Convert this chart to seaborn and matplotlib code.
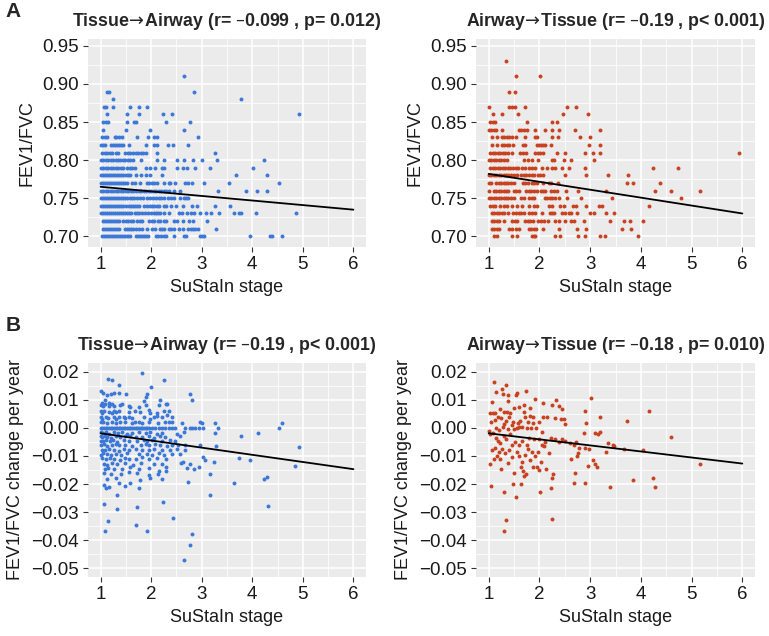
import pandas as pd
import matplotlib
matplotlib.use("Agg")
import matplotlib.pyplot as plt
import seaborn as sns
from matplotlib.ticker import MultipleLocator, FuncFormatter

BLUE = "#3b78d8"
RED = "#c8421f"

# ---- Panel A: FEV1/FVC (values are on a 0.01 grid) ----
fev_levels = [0.70, 0.71, 0.72, 0.73, 0.74, 0.75, 0.76, 0.77, 0.78, 0.79, 0.80,
              0.81, 0.82, 0.83, 0.84, 0.85, 0.86, 0.87, 0.88, 0.89, 0.90, 0.91, 0.92, 0.93]

# Tissue->Airway, SuStaIn stage of every subject at each FEV1/FVC level
ta_fev_x = [
    [1.02, 1.06, 1.10, 1.14, 1.18, 1.22, 1.26, 1.30, 1.34, 1.38, 1.42, 1.46, 1.50, 1.54, 1.58,
     1.70, 1.74, 1.78, 1.82, 1.86, 1.90, 1.94, 2.10, 2.14, 2.20, 2.25, 2.30, 2.45, 2.64, 2.68,
     2.97, 3.01, 3.05, 3.95, 4.36, 4.40, 4.59],
    [1.04, 1.08, 1.12, 1.16, 1.20, 1.24, 1.28, 1.32, 1.37, 1.48, 1.52, 1.56, 1.60, 1.65, 1.70,
     1.75, 1.82, 1.92, 2.02, 2.08, 2.18, 2.22, 2.26, 2.35, 2.40, 2.45, 2.55, 2.62, 2.72, 2.78,
     2.82, 2.86, 2.92, 3.28],
    [1.04, 1.08, 1.12, 1.16, 1.20, 1.24, 1.28, 1.32, 1.36, 1.45, 1.50, 1.55, 1.60, 1.65, 1.72,
     1.78, 1.82, 1.96, 2.02, 2.06, 2.14, 2.18, 2.25, 2.30, 2.45, 2.52, 2.62, 2.75, 2.82, 3.10],
    [1.00, 1.04, 1.08, 1.12, 1.16, 1.20, 1.24, 1.28, 1.32, 1.36, 1.40, 1.44, 1.48, 1.52, 1.56,
     1.60, 1.68, 1.72, 1.76, 1.82, 1.88, 1.94, 2.00, 2.06, 2.10, 2.14, 2.18, 2.25, 2.35, 2.55,
     2.60, 2.70, 2.78, 2.85, 2.96, 3.08, 3.18, 3.35, 3.64, 3.73, 3.77, 4.08, 4.86],
    [1.00, 1.04, 1.08, 1.12, 1.16, 1.20, 1.24, 1.28, 1.32, 1.36, 1.40, 1.44, 1.50, 1.56, 1.60,
     1.64, 1.68, 1.72, 1.76, 1.86, 1.92, 1.98, 2.02, 2.06, 2.12, 2.15, 2.26, 2.30, 2.40, 2.50,
     2.62, 2.80, 2.90, 3.27, 3.56],
    [1.00, 1.04, 1.08, 1.12, 1.16, 1.20, 1.24, 1.28, 1.32, 1.36, 1.40, 1.44, 1.48, 1.52, 1.58,
     1.62, 1.66, 1.72, 1.78, 1.84, 1.92, 1.98, 2.04, 2.10, 2.16, 2.20, 2.26, 2.34, 2.40, 2.46,
     2.58, 2.64, 2.68, 2.72],
    [1.00, 1.05, 1.10, 1.15, 1.20, 1.25, 1.30, 1.35, 1.40, 1.45, 1.50, 1.55, 1.60, 1.65, 1.70,
     1.75, 1.80, 1.85, 1.90, 1.95, 2.00, 2.05, 2.10, 2.15, 2.20, 2.25, 2.30, 2.35, 2.45, 2.58,
     3.33, 3.87, 4.09, 4.30],
    [1.00, 1.04, 1.08, 1.12, 1.16, 1.20, 1.24, 1.28, 1.32, 1.36, 1.40, 1.44, 1.48, 1.52, 1.62,
     1.68, 1.77, 1.92, 1.96, 2.02, 2.06, 2.12, 2.25, 2.35, 2.38, 2.48, 2.67, 2.73, 2.81, 3.05,
     3.53, 4.52],
    [1.00, 1.04, 1.08, 1.12, 1.16, 1.20, 1.24, 1.28, 1.32, 1.36, 1.40, 1.45, 1.50, 1.55, 1.59,
     1.69, 1.79, 1.89, 1.98, 2.21, 3.67, 4.29],
    [1.00, 1.05, 1.10, 1.15, 1.20, 1.25, 1.30, 1.35, 1.40, 1.45, 1.52, 1.58, 1.63, 1.68, 1.89,
     1.98, 2.08, 2.21, 2.25, 2.51, 2.62, 2.71, 2.87, 3.17, 4.02],
    [1.00, 1.05, 1.10, 1.14, 1.20, 1.24, 1.30, 1.34, 1.39, 1.44, 1.49, 1.54, 1.59, 1.64, 1.79,
     2.12, 2.25, 2.51, 2.64, 2.82, 3.00, 3.30, 4.23],
    [1.03, 1.08, 1.13, 1.18, 1.23, 1.30, 1.34, 1.49, 1.54, 1.59, 1.64, 1.69, 1.74, 1.79, 1.83,
     1.89, 2.12, 3.27],
    [1.00, 1.04, 1.08, 1.20, 1.24, 1.28, 1.32, 1.36, 1.40, 1.45, 1.56, 1.89, 2.06, 2.12, 2.33,
     2.44, 2.73],
    [1.03, 1.08, 1.13, 1.28, 1.31, 1.36, 1.43, 1.72, 1.94, 2.05, 2.12, 2.93],
    [1.05, 1.51, 1.97, 2.65],
    [1.05, 1.10, 1.14, 1.52, 1.66, 1.69, 2.29, 2.77],
    [1.12, 1.52, 1.75, 2.23, 2.41, 4.92],
    [1.07, 1.11, 1.24, 1.58, 1.75, 1.91],
    [1.24, 3.78],
    [1.13, 1.16, 2.84],
    [],
    [2.65],
    [],
    [],
]

# Airway->Tissue
at_fev_x = [
    [1.11, 1.16, 1.45, 1.55, 1.85, 1.89, 1.92, 2.30, 2.41, 2.77, 2.90, 3.20, 3.30, 3.94],
    [1.07, 1.11, 1.16, 1.21, 1.41, 1.46, 1.53, 1.59, 1.79, 1.83, 1.89, 1.94, 2.08, 2.38, 2.74,
     2.91, 3.63, 3.80],
    [1.07, 1.11, 1.16, 1.21, 1.31, 1.46, 1.51, 1.56, 1.72, 1.77, 1.82, 1.87, 1.97, 2.03, 2.10,
     2.16, 2.31, 2.38, 2.51, 2.62, 2.69, 2.87, 3.40, 3.66, 3.79, 4.04],
    [1.07, 1.11, 1.16, 1.21, 1.26, 1.31, 1.39, 1.47, 1.53, 1.59, 1.64, 1.69, 1.79, 1.85, 1.92,
     2.05, 2.20, 2.25, 2.28, 2.45, 2.51, 2.58, 2.62, 2.75, 3.00, 3.07, 3.31, 3.48],
    [1.03, 1.08, 1.13, 1.23, 1.31, 1.37, 1.46, 1.56, 1.66, 1.79, 1.89, 1.95, 2.18, 2.25, 2.41,
     2.48, 2.66, 2.73, 2.91, 3.17, 3.24, 4.17],
    [1.00, 1.05, 1.10, 1.14, 1.20, 1.24, 1.30, 1.34, 1.39, 1.44, 1.49, 1.64, 1.69, 1.79, 1.85,
     1.89, 2.12, 2.15, 2.20, 2.25, 2.30, 2.38, 2.55, 2.82, 3.44, 4.79],
    [1.00, 1.10, 1.14, 1.20, 1.24, 1.30, 1.34, 1.39, 1.49, 1.54, 1.59, 1.74, 1.79, 1.84, 1.89,
     1.95, 2.03, 2.08, 2.12, 2.22, 2.28, 2.35, 2.53, 2.77, 3.32, 4.28, 4.60, 5.17],
    [1.00, 1.05, 1.14, 1.20, 1.24, 1.30, 1.34, 1.39, 1.44, 1.49, 1.68, 1.72, 1.77, 1.85, 1.90,
     1.95, 2.08, 2.18, 2.22, 2.36, 3.73, 3.85, 4.38],
    [1.00, 1.05, 1.10, 1.14, 1.20, 1.24, 1.30, 1.34, 1.39, 1.44, 1.49, 1.56, 1.64, 1.69, 1.74,
     1.79, 1.85, 1.90, 1.97, 2.02, 2.08, 2.51, 2.91, 3.35, 3.75],
    [1.03, 1.08, 1.13, 1.18, 1.23, 1.28, 1.33, 1.38, 1.43, 1.48, 1.53, 1.58, 1.66, 1.71, 1.79,
     1.85, 1.92, 2.05, 2.15, 2.25, 2.30, 2.45, 2.58, 2.90, 4.24, 4.73],
    [1.00, 1.05, 1.10, 1.15, 1.20, 1.24, 1.31, 1.36, 1.69, 1.77, 1.85, 1.97, 2.25, 2.28, 2.48,
     2.62, 3.07],
    [1.03, 1.08, 1.13, 1.18, 1.23, 1.28, 1.33, 1.39, 1.46, 1.62, 1.67, 1.74, 1.92, 1.97, 2.02,
     2.07, 2.35, 2.50, 2.89, 3.05, 3.20, 5.93],
    [1.07, 1.16, 1.26, 1.31, 1.36, 1.41, 1.47, 1.68, 1.72, 1.95, 2.00, 2.04, 2.08, 2.12, 2.22,
     2.98, 3.20],
    [1.07, 1.16, 1.26, 1.31, 1.36, 1.41, 1.46, 1.54, 1.71, 1.92, 1.95, 2.25, 2.36, 2.81, 3.00],
    [1.00, 1.05, 1.10, 1.14, 1.26, 1.59, 1.64, 1.69, 1.76, 1.92, 2.12, 2.25, 2.38, 2.70, 3.20],
    [1.03, 1.09, 1.13, 1.76, 2.25, 2.35],
    [1.09, 1.26, 1.58, 2.46, 2.96],
    [1.01, 1.41, 1.46, 1.51, 1.72, 2.54, 2.73],
    [],
    [1.41, 1.51],
    [],
    [1.53, 2.02],
    [],
    [1.34],
]

# ---- Panel B: FEV1/FVC change per year ----
ta_rate_x = [
    1.81, 1.14, 1.23, 2.26, 1.36, 2.00, 1.01, 1.05, 1.13, 1.20, 1.26, 1.37, 1.51, 1.92, 1.89,
    1.85, 2.76, 2.80, 2.18, 2.29, 1.09, 1.16,
    1.00, 1.02, 1.05, 1.09, 1.16, 1.22, 1.26, 1.39, 1.43, 1.56, 1.59, 1.75, 1.89, 2.15, 2.31,
    1.00, 1.03, 1.07, 1.16, 1.22, 1.26, 1.31, 1.36, 1.56, 1.68, 1.77, 1.95, 1.98, 2.12, 2.25, 2.35,
    1.00, 1.03, 1.10, 1.15, 1.26, 1.31, 1.36, 1.46, 1.49, 1.56, 1.62, 1.85, 1.98, 2.05, 2.12,
    2.21, 2.31, 2.41,
    1.00, 1.05, 1.13, 1.22, 1.30, 1.39, 1.49, 1.62, 1.68, 1.75, 1.82, 1.95, 2.14, 2.28, 2.35,
    2.42, 2.61, 2.97, 3.00, 3.26,
    1.00, 1.03, 1.07, 1.10, 1.13, 1.16, 1.20, 1.23, 1.26, 1.30, 1.33, 1.36, 1.39, 1.43, 1.46,
    1.49, 1.52, 1.56, 1.59, 1.62, 1.66, 1.69, 1.72, 1.75, 1.79, 1.82, 1.85, 1.89, 1.92, 1.95,
    2.02, 2.08, 2.15, 2.21, 2.28, 2.35, 2.41, 2.48, 2.67, 2.76, 2.80, 2.87, 2.94, 3.03, 3.33,
    1.00, 1.05, 1.10, 1.16, 1.26, 1.35, 1.43, 1.52, 1.62, 1.75, 1.89, 1.98, 2.12, 2.21, 2.51,
    2.64, 3.26,
    1.00, 1.03, 1.09, 1.13, 1.20, 1.30, 1.39, 1.48, 1.59, 1.69, 1.82, 1.95, 2.05, 2.18, 2.28, 2.57,
    1.00, 1.05, 1.11, 1.18, 1.24, 1.33, 1.46, 1.56, 1.72, 1.85, 1.92, 2.02, 2.21, 2.38, 2.48,
    1.00, 1.07, 1.13, 1.22, 1.30, 1.37, 1.49, 1.62, 1.79, 1.89, 1.96, 2.08, 2.18, 2.31, 2.42,
    2.54, 2.66, 2.97, 3.28,
    1.02, 1.09, 1.16, 1.26, 1.36, 1.46, 1.56, 1.69, 1.82, 1.95, 2.05, 2.21, 2.38, 2.51, 2.67,
    1.00, 1.05, 1.13, 1.20, 1.31, 1.41, 1.52, 1.75, 1.92, 2.02, 2.15, 2.25, 2.41, 2.57,
    1.03, 1.10, 1.18, 1.26, 1.39, 1.49, 1.56, 1.69, 1.82, 1.95, 2.12, 2.29, 2.62, 3.03,
    1.07, 1.13, 1.23, 1.33, 1.49, 1.64, 1.79, 2.05, 2.21, 2.59, 2.77,
    1.09, 1.15, 1.26, 1.43, 1.59, 1.75, 1.95, 2.15, 2.30, 2.71, 2.84, 2.94, 3.06,
    1.07, 1.20, 1.41, 1.56, 1.72, 1.98, 2.14, 2.29, 3.17,
    1.13, 1.30, 1.75, 1.95, 2.21, 1.07, 1.11, 1.16, 1.49, 1.59, 1.77, 1.36, 2.73, 3.25,
    1.07, 1.33, 1.33, 1.72, 2.23, 2.43, 1.14, 1.09, 1.69, 1.91, 2.80, 2.76, 2.65, 3.17,
    4.59, 4.53, 3.78, 4.12, 4.92, 3.74, 3.95, 4.85, 3.63, 4.23, 4.29, 4.31,
]
ta_rate_y = [
    0.0198, 0.0174, 0.0171, 0.0171, 0.0154, 0.0148, 0.0133, 0.0126, 0.0118, 0.0121, 0.0126,
    0.0126, 0.0121, 0.0121, 0.0109, 0.0097, 0.0121, 0.0100, 0.0100, 0.0086, 0.0100, 0.0090,
    0.0082, 0.0088, 0.0078, 0.0084, 0.0080, 0.0086, 0.0077, 0.0082, 0.0085, 0.0079, 0.0074,
    0.0076, 0.0081, 0.0082, 0.0084,
    0.0060, 0.0055, 0.0062, 0.0058, 0.0052, 0.0060, 0.0056, 0.0061, 0.0058, 0.0062, 0.0058,
    0.0064, 0.0055, 0.0054, 0.0062, 0.0062,
    0.0038, 0.0032, 0.0040, 0.0035, 0.0040, 0.0033, 0.0038, 0.0040, 0.0034, 0.0040, 0.0036,
    0.0040, 0.0032, 0.0040, 0.0043, 0.0040, 0.0046, 0.0040,
    0.0020, 0.0022, 0.0018, 0.0021, 0.0019, 0.0022, 0.0020, 0.0018, 0.0021, 0.0020, 0.0017,
    0.0021, 0.0019, 0.0022, 0.0020, 0.0022, 0.0019, 0.0020, 0.0018, 0.0017,
    0.0, 0.0, 0.0, 0.0, 0.0, 0.0, 0.0, 0.0, 0.0, 0.0, 0.0, 0.0, 0.0, 0.0, 0.0,
    0.0, 0.0, 0.0, 0.0, 0.0, 0.0, 0.0, 0.0, 0.0, 0.0, 0.0, 0.0, 0.0, 0.0, 0.0,
    0.0, 0.0, 0.0, 0.0, 0.0, 0.0, 0.0, 0.0, 0.0, 0.0, 0.0, 0.0, 0.0, 0.0, 0.0,
    -0.0015, -0.0019, -0.0016, -0.0020, -0.0014, -0.0018, -0.0016, -0.0021, -0.0017, -0.0015,
    -0.0019, -0.0016, -0.0020, -0.0018, -0.0022, -0.0016, -0.0017,
    -0.0030, -0.0033, -0.0028, -0.0031, -0.0034, -0.0029, -0.0032, -0.0030, -0.0027, -0.0033,
    -0.0031, -0.0029, -0.0034, -0.0030, -0.0032, -0.0028,
    -0.0045, -0.0048, -0.0042, -0.0046, -0.0044, -0.0049, -0.0043, -0.0047, -0.0045, -0.0042,
    -0.0048, -0.0044, -0.0046, -0.0043, -0.0047,
    -0.0060, -0.0058, -0.0063, -0.0061, -0.0057, -0.0062, -0.0059, -0.0064, -0.0060, -0.0056,
    -0.0062, -0.0058, -0.0061, -0.0063, -0.0059, -0.0062, -0.0060, -0.0061, -0.0065,
    -0.0077, -0.0080, -0.0075, -0.0078, -0.0081, -0.0076, -0.0079, -0.0074, -0.0078, -0.0080,
    -0.0076, -0.0079, -0.0077, -0.0075, -0.0078,
    -0.0095, -0.0091, -0.0094, -0.0097, -0.0092, -0.0096, -0.0090, -0.0094, -0.0093, -0.0096,
    -0.0091, -0.0095, -0.0092, -0.0094,
    -0.0108, -0.0112, -0.0106, -0.0110, -0.0113, -0.0107, -0.0111, -0.0109, -0.0105, -0.0112,
    -0.0108, -0.0110, -0.0121, -0.0103,
    -0.0127, -0.0131, -0.0124, -0.0129, -0.0126, -0.0132, -0.0125, -0.0128, -0.0130, -0.0125,
    -0.0127,
    -0.0146, -0.0142, -0.0145, -0.0148, -0.0141, -0.0147, -0.0143, -0.0154, -0.0139, -0.0144,
    -0.0146, -0.0139, -0.0115,
    -0.0160, -0.0164, -0.0166, -0.0158, -0.0162, -0.0177, -0.0163, -0.0154, -0.0166,
    -0.0183, -0.0180, -0.0216, -0.0168, -0.0182, -0.0204, -0.0216, -0.0212, -0.0208, -0.0198,
    -0.0186, -0.0198, -0.0192, -0.0121,
    -0.0270, -0.0240, -0.0290, -0.0282, -0.0264, -0.0320, -0.0333, -0.0367, -0.0345, -0.0367,
    -0.0377, -0.0416, -0.0470, -0.0240,
    0.0019, 0.0001, -0.0028, -0.0017, -0.0067, -0.0108, -0.0115, -0.0136, -0.0196, -0.0183,
    -0.0175, -0.0278,
]

# Airway->Tissue, (stage, change per year)
at_rate_pts = [
    (1.10, 0.0165), (1.34, 0.0154), (1.26, 0.0139), (1.14, 0.0127), (1.28, 0.0121),
    (1.39, 0.0118), (1.74, 0.0133), (1.54, 0.0118), (1.56, 0.0124), (1.38, 0.0097),
    (1.92, 0.0105), (3.02, 0.0106), (1.07, 0.0092), (2.08, 0.0090), (2.25, 0.0082),
    (2.33, 0.0100), (2.38, 0.0078), (2.45, 0.0067), (1.69, 0.0082), (1.81, 0.0070),
    (1.03, 0.0055), (1.09, 0.0055), (1.13, 0.0052), (1.22, 0.0067), (1.30, 0.0058),
    (1.36, 0.0058), (1.43, 0.0055), (1.49, 0.0070), (1.59, 0.0076), (1.69, 0.0058),
    (1.72, 0.0040), (1.82, 0.0043), (1.87, 0.0040), (2.07, 0.0040), (2.15, 0.0040),
    (1.99, 0.0022), (2.31, 0.0034), (2.43, 0.0031), (2.48, 0.0031), (2.51, 0.0016),
    (2.89, 0.0062), (3.20, 0.0038), (2.91, 0.0019), (2.87, -0.0017),
    (1.05, 0.0020), (1.12, 0.0028), (1.18, 0.0040), (1.25, 0.0035), (1.30, 0.0015),
    (1.35, 0.0025), (1.40, 0.0040), (1.45, 0.0010), (1.48, 0.0020), (1.55, 0.0000),
    (1.58, 0.0018), (1.62, 0.0025), (1.65, 0.0005), (1.76, 0.0000), (1.84, 0.0000),
    (1.94, 0.0000), (1.78, 0.0020), (1.88, 0.0018), (1.15, 0.0000), (1.20, -0.0008),
    (1.28, 0.0005), (1.38, -0.0005), (1.50, -0.0002), (1.60, 0.0002),
    (1.00, -0.0010), (1.03, -0.0022), (1.08, -0.0018), (1.14, -0.0035), (1.18, -0.0045),
    (1.22, -0.0055), (1.30, -0.0030), (1.35, -0.0040), (1.42, -0.0020), (1.46, -0.0060),
    (1.52, -0.0050), (1.60, -0.0062), (1.66, -0.0045), (1.75, -0.0060), (1.80, -0.0035),
    (1.90, -0.0040), (2.00, -0.0040), (2.06, -0.0013), (2.05, -0.0060), (2.12, -0.0050),
    (2.22, -0.0035), (2.30, -0.0038), (2.38, -0.0050), (2.45, -0.0040), (2.50, -0.0045),
    (2.60, -0.0055), (2.68, -0.0060), (2.72, -0.0050), (2.79, -0.0073), (2.77, -0.0090),
    (2.74, -0.0100), (2.62, -0.0109), (2.70, -0.0160), (2.68, -0.0196), (2.89, -0.0198),
    (2.96, -0.0134), (3.05, -0.0115), (3.09, -0.0130), (3.14, -0.0139), (3.10, -0.0019),
    (3.20, -0.0013), (3.31, -0.0086), (3.35, -0.0053), (3.45, -0.0061), (3.40, -0.0210),
    (2.90, -0.0070), (2.98, -0.0075), (3.15, -0.0020),
    (1.02, -0.0127), (1.10, -0.0112), (1.16, -0.0100), (1.23, -0.0109), (1.06, -0.0080),
    (1.12, -0.0070), (1.20, -0.0085), (1.27, -0.0075), (1.33, -0.0090), (1.40, -0.0080),
    (1.45, -0.0105), (1.38, -0.0125), (1.55, -0.0085), (1.60, -0.0100), (1.65, -0.0120),
    (1.72, -0.0095), (1.78, -0.0075), (1.85, -0.0085), (1.92, -0.0100), (1.98, -0.0085),
    (2.04, -0.0120), (2.10, -0.0065), (2.18, -0.0090), (1.24, -0.0145), (1.64, -0.0140),
    (1.68, -0.0153), (1.70, -0.0171), (1.74, -0.0165), (1.87, -0.0139), (1.95, -0.0139),
    (1.99, -0.0150), (2.13, -0.0148), (2.25, -0.0180), (2.27, -0.0165), (2.22, -0.0213),
    (2.02, -0.0230), (1.05, -0.0208), (1.30, -0.0230), (1.53, -0.0245), (1.48, -0.0200),
    (1.64, -0.0200), (1.34, -0.0327), (1.30, -0.0367), (2.25, -0.0326), (1.50, -0.0160),
    (1.82, -0.0115),
    (3.72, 0.0026), (4.16, 0.0061), (4.59, -0.0031), (3.66, -0.0075), (3.48, -0.0065),
    (4.04, -0.0080), (5.17, -0.0127), (3.85, -0.0187), (4.23, -0.0179), (4.28, -0.0210),
]

# fitted lines read at stage 1 and stage 6
fit_stage = [1, 6]
ta_fev_fit = [0.765, 0.735]
at_fev_fit = [0.782, 0.730]
ta_rate_fit = [-0.0019, -0.0147]
at_rate_fit = [-0.0019, -0.0127]

# a negative thin space each side trims the relation padding mathtext puts round the arrow
ARROW = r"$\!\rightarrow\!$"
titles = [
    "Tissue" + ARROW + "Airway (r= \u20130.099 , p= 0.012)",
    "Airway" + ARROW + "Tissue (r= \u20130.19 , p< 0.001)",
    "Tissue" + ARROW + "Airway (r= \u20130.19 , p< 0.001)",
    "Airway" + ARROW + "Tissue (r= \u20130.18 , p= 0.010)",
]


def level_frame(levels, xs):
    rows = [(x, lv) for lv, row in zip(levels, xs) for x in row]
    return pd.DataFrame(rows, columns=["stage", "value"])


ta_fev = level_frame(fev_levels, ta_fev_x)
at_fev = level_frame(fev_levels, at_fev_x)
ta_rate = pd.DataFrame({"stage": ta_rate_x, "value": ta_rate_y})
at_rate = pd.DataFrame(at_rate_pts, columns=["stage", "value"])

sns.set_style("darkgrid", {"axes.facecolor": "#ebebeb", "grid.color": "white"})
plt.rcParams["font.family"] = ["Liberation Sans", "DejaVu Sans"]
plt.rcParams["mathtext.fontset"] = "dejavusans"

W, H = 769, 636
fig = plt.figure(figsize=(W / 100, H / 100), dpi=100)


def add_ax(l, t, r, b):
    return fig.add_axes([l / W, 1 - b / H, (r - l) / W, (b - t) / H])


def fmt(v, pos):
    if abs(v) < 1e-9:
        return "0.00"
    s = "%.2f" % v
    return s.replace("-", "\u2212")


def style(ax, ylim, ymaj, ymin):
    ax.set_xlim(0.75, 6.25)
    ax.set_ylim(*ylim)
    ax.xaxis.set_major_locator(MultipleLocator(1))
    ax.xaxis.set_minor_locator(MultipleLocator(0.5))
    ax.yaxis.set_major_locator(MultipleLocator(ymaj))
    ax.yaxis.set_minor_locator(MultipleLocator(ymin))
    ax.yaxis.set_major_formatter(FuncFormatter(fmt))
    ax.grid(which="major", color="white", linewidth=1.1)
    ax.grid(which="minor", color="white", linewidth=0.55)
    ax.set_axisbelow(True)
    for sp in ax.spines.values():
        sp.set_visible(False)
    ax.tick_params(which="major", length=3.5, width=0.8, color="#333333",
                   labelsize=13.5, labelcolor="#1a1a1a", pad=3, bottom=True, left=True)
    ax.tick_params(which="minor", length=0)
    ax.set_xlabel("SuStaIn stage", fontsize=13, color="#1a1a1a", labelpad=4)


panels = [
    (add_ax(88, 39, 366, 247), ta_fev, ta_fev_fit, BLUE, "FEV1/FVC", (0.686, 0.959), 0.05, 0.025),
    (add_ax(476, 39, 755, 247), at_fev, at_fev_fit, RED, "FEV1/FVC", (0.686, 0.959), 0.05, 0.025),
    (add_ax(88, 363, 366, 577), ta_rate, ta_rate_fit, BLUE, "FEV1/FVC change per year",
     (-0.0532, 0.0232), 0.01, 0.005),
    (add_ax(476, 363, 755, 577), at_rate, at_rate_fit, RED, "FEV1/FVC change per year",
     (-0.0532, 0.0232), 0.01, 0.005),
]

for (ax, df, fit, col, ylab, ylim, ymaj, ymin), title in zip(panels, titles):
    sns.scatterplot(data=df, x="stage", y="value", color=col, s=8, linewidth=0, ax=ax)
    sns.lineplot(x=fit_stage, y=fit, color="black", linewidth=1.3, ax=ax)
    style(ax, ylim, ymaj, ymin)
    ax.set_ylabel(ylab, fontsize=13, color="#1a1a1a", labelpad=5)
    ax.set_title(title, fontsize=12.8, fontweight="bold", pad=9)

fig.text(0.007, 0.982, "A", fontsize=15, fontweight="bold", va="center")
fig.text(0.007, 0.488, "B", fontsize=15, fontweight="bold", va="center")

fig.savefig("out.png", dpi=100)
